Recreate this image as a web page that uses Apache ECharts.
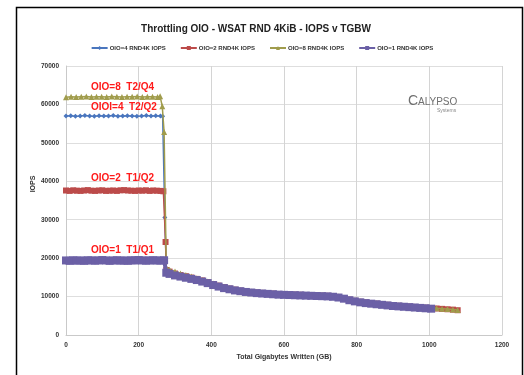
<!DOCTYPE html>
<html>
<head>
<meta charset="utf-8">
<script src="https://cdn.jsdelivr.net/npm/echarts@6/dist/echarts.min.js"></script>
<style>
html,body{margin:0;padding:0;background:#fff;}
#chart{width:524px;height:375px;}
</style>
</head>
<body>
<div id="chart"></div>
<script>
// ---- Data ----
const seriesNames = ['OIO=4 RND4K IOPS', 'OIO=2 RND4K IOPS', 'OIO=8 RND4K IOPS', 'OIO=1 RND4K IOPS'];
const xTicks = [0, 200, 400, 600, 800, 1000, 1200];
const yTicks = [0, 10000, 20000, 30000, 40000, 50000, 60000, 70000];

// Before / during the throttling drop (GB written, IOPS)
const oio4HeadGB = [0, 13, 26, 39, 52, 65, 78, 91, 104, 117, 130, 143, 156, 169, 182, 195, 208, 221, 234, 247, 260, 266, 272];
const oio4HeadIOPS = [57000, 57050, 56950, 57000, 57100, 57000, 56950, 57050, 57000, 57000, 57100, 56950, 57000, 57050, 57000, 56950, 57000, 57100, 57000, 57050, 57000, 56900, 30600];

const oio2HeadGB = [0, 10, 20, 30, 40, 50, 60, 70, 80, 90, 100, 110, 120, 130, 140, 150, 160, 170, 180, 190, 200, 210, 220, 230, 240, 250, 260, 268, 274];
const oio2HeadIOPS = [37600, 37500, 37650, 37550, 37500, 37600, 37700, 37550, 37500, 37600, 37650, 37500, 37550, 37600, 37500, 37650, 37700, 37600, 37550, 37500, 37600, 37550, 37650, 37500, 37600, 37550, 37500, 37400, 24200];

const oio8HeadGB = [0, 14, 28, 42, 56, 70, 84, 98, 112, 126, 140, 154, 168, 182, 196, 210, 224, 238, 252, 259, 265, 270];
const oio8HeadIOPS = [61900, 62000, 61950, 62000, 62050, 61950, 62000, 62000, 61950, 62050, 62000, 61950, 62000, 62000, 62050, 61950, 62000, 62000, 61950, 62100, 59500, 52800];

const oio1HeadGB = [0, 10, 20, 30, 40, 50, 60, 70, 80, 90, 100, 110, 120, 130, 140, 150, 160, 170, 180, 190, 200, 210, 220, 230, 240, 250, 260, 270];
const oio1HeadIOPS = [19400, 19300, 19450, 19350, 19400, 19300, 19450, 19400, 19350, 19400, 19500, 19400, 19300, 19400, 19450, 19350, 19400, 19300, 19450, 19400, 19500, 19400, 19350, 19400, 19450, 19400, 19350, 19450];

// Throttled steady decay (shared GB positions)
const tailGB = [276, 285, 300, 315, 330, 345, 360, 375, 390, 405, 420, 435, 450, 465, 480, 495, 510, 525, 540, 555, 570, 585, 600, 615, 630, 645, 660, 675, 690, 705, 720, 735, 750, 765, 780, 795, 810, 825, 840, 855, 870, 885, 900, 915, 930, 945, 960, 975, 990, 1005, 1020, 1035, 1050, 1065, 1078];
const oio4TailIOPS = [16800, 16400, 15900, 15500, 15200, 14850, 14500, 14100, 13650, 13150, 12750, 12350, 12000, 11700, 11500, 11300, 11150, 11000, 10900, 10800, 10700, 10600, 10550, 10500, 10450, 10400, 10350, 10300, 10250, 10200, 10150, 10050, 9850, 9550, 9150, 8850, 8600, 8400, 8250, 8100, 7950, 7800, 7650, 7550, 7450, 7350, 7250, 7150, 7050, 6950, 6850, 6750, 6650, 6550, 6450];
const oio2TailIOPS = [16900, 16500, 16000, 15600, 15300, 14950, 14600, 14200, 13750, 13250, 12850, 12450, 12100, 11800, 11550, 11350, 11200, 11050, 10950, 10850, 10750, 10650, 10600, 10550, 10500, 10450, 10400, 10350, 10300, 10250, 10200, 10100, 9900, 9600, 9200, 8900, 8650, 8450, 8300, 8150, 8000, 7850, 7700, 7600, 7500, 7400, 7300, 7200, 7100, 7000, 6900, 6800, 6700, 6600, 6450];
const oio8TailIOPS = [17600, 17000, 16500, 16000, 15600, 15200, 14800, 14300, 13900, 13400, 12900, 12500, 12200, 11900, 11650, 11450, 11300, 11150, 11050, 10950, 10850, 10750, 10700, 10650, 10600, 10550, 10500, 10450, 10400, 10350, 10300, 10200, 10000, 9700, 9300, 9000, 8750, 8550, 8400, 8250, 8100, 7950, 7800, 7700, 7600, 7500, 7400, 7300, 7200, 7100, 6950, 6850, 6750, 6650, 6500];
const oio1TailIOPS = [16200, 15900, 15500, 15200, 14900, 14600, 14300, 13900, 13500, 13000, 12600, 12200, 11900, 11600, 11400, 11200, 11050, 10900, 10800, 10700, 10600, 10500, 10450, 10400, 10350, 10300, 10250, 10200, 10150, 10100, 10050, 9950, 9750, 9450, 9050, 8750, 8500, 8300, 8150, 8000, 7850, 7700, 7550, 7450, 7350, 7250, 7150, 7050, 6950, 6850];

const annotations = ['OIO=8  T2/Q4', 'OIOI=4  T2/Q2', 'OIO=2  T1/Q2', 'OIO=1  T1/Q1'];

// ---- Build ----
function build(hx, hy, ty) {
  const out = [];
  for (let i = 0; i < hx.length; i++) out.push([hx[i], hy[i]]);
  for (let i = 0; i < ty.length; i++) out.push([tailGB[i], ty[i]]);
  return out;
}
const colors = ['#4A76BE', '#BC4B4A', '#A09C4C', '#6B60A6'];
const symbols = ['diamond', 'rect', 'triangle', 'rect'];
const sizes = [5, 6, 6, 8];
const datas = [
  build(oio4HeadGB, oio4HeadIOPS, oio4TailIOPS),
  build(oio2HeadGB, oio2HeadIOPS, oio2TailIOPS),
  build(oio8HeadGB, oio8HeadIOPS, oio8TailIOPS),
  build(oio1HeadGB, oio1HeadIOPS, oio1TailIOPS)
];
const FONT = '"Liberation Sans", Arial, sans-serif';

const chart = echarts.init(document.getElementById('chart'), null, {renderer: 'canvas'});
chart.setOption({
  animation: false,
  backgroundColor: '#fff',
  color: colors,
  title: {
    text: 'Throttling OIO - WSAT RND 4KiB - IOPS v TGBW',
    left: 251, top: 19, textAlign: 'center',
    textStyle: {fontFamily: FONT, fontSize: 10, fontWeight: 'bold', color: '#222'}
  },
  legend: {
    data: seriesNames,
    top: 40, left: 'center',
    itemWidth: 16, itemHeight: 5, itemGap: 14,
    textStyle: {fontFamily: FONT, fontSize: 6, fontWeight: 'bold', color: '#333', padding: [0,0,0,-3]}
  },
  grid: {left: 66, top: 66, right: 22, bottom: 40},
  xAxis: {
    type: 'value', min: xTicks[0], max: xTicks[xTicks.length - 1], interval: 200,
    name: 'Total Gigabytes Written (GB)', nameLocation: 'middle', nameGap: 18,
    nameTextStyle: {fontFamily: FONT, fontSize: 7, fontWeight: 'bold', color: '#333'},
    axisLine: {show: true, lineStyle: {color: '#c9c9c9'}},
    axisTick: {show: false},
    axisLabel: {fontFamily: FONT, fontSize: 6.5, fontWeight: 'bold', color: '#333', margin: 7, formatter: v => String(v)},
    splitLine: {show: true, lineStyle: {color: '#d4d4d4', width: 1}}
  },
  yAxis: {
    type: 'value', min: yTicks[0], max: yTicks[yTicks.length - 1], interval: 10000,
    axisLine: {show: true, lineStyle: {color: '#c9c9c9'}},
    axisTick: {show: false},
    axisLabel: {fontFamily: FONT, fontSize: 6.5, fontWeight: 'bold', color: '#333', margin: 7, formatter: v => String(v)},
    splitLine: {show: true, lineStyle: {color: '#dedede', width: 1}}
  },
  graphic: [
    {type: 'rect', left: 14, top: 5, shape: {width: 506, height: 390}, style: {fill: 'none', stroke: '#000', lineWidth: 1.5}, silent: true},
    {type: 'text', left: 91, top: 82, style: {text: annotations[0], font: 'bold 10px ' + FONT, fill: '#ff1a1a'}, z: 100},
    {type: 'text', left: 91, top: 102, style: {text: annotations[1], font: 'bold 10px ' + FONT, fill: '#ff1a1a'}, z: 100},
    {type: 'text', left: 91, top: 173, style: {text: annotations[2], font: 'bold 10px ' + FONT, fill: '#ff1a1a'}, z: 100},
    {type: 'text', left: 91, top: 245, style: {text: annotations[3], font: 'bold 10px ' + FONT, fill: '#ff1a1a'}, z: 100},
    {type: 'text', left: 408, top: 94, style: {text: 'C', font: '14px ' + FONT, fill: '#6f6f6f'}, z: 100},
    {type: 'text', left: 418, top: 97, style: {text: 'ALYPSO', font: '10px ' + FONT, fill: '#6f6f6f'}, z: 100},
    {type: 'text', left: 437, top: 108, style: {text: 'Systems', font: '5px ' + FONT, fill: '#888'}, z: 100},
    {type: 'text', x: 33, y: 184, rotation: Math.PI / 2, style: {text: 'IOPS', font: 'bold 7px ' + FONT, fill: '#333', align: 'center', verticalAlign: 'middle'}, z: 100}
  ],
  series: seriesNames.map((n, i) => ({
    name: n, type: 'line', data: datas[i],
    symbol: symbols[i], symbolSize: sizes[i], showAllSymbol: true,
    lineStyle: {width: i === 3 ? 4 : 1.5, color: colors[i]},
    itemStyle: {color: colors[i], borderWidth: 0},
    z: 2 + i
  }))
});
</script>
</body>
</html>
